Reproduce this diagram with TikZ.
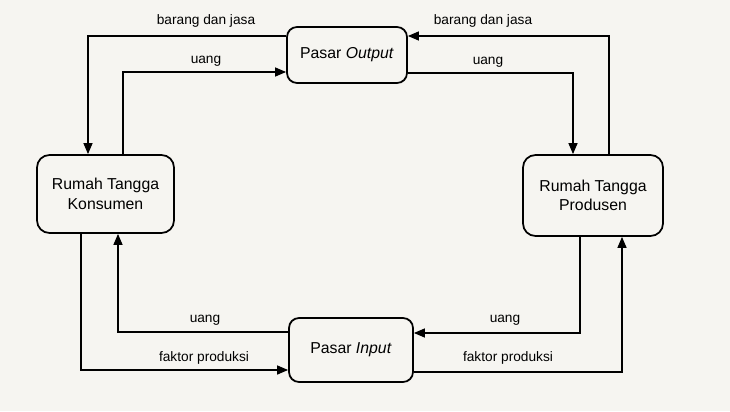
\documentclass[tikz,border=0pt]{standalone}
\usepackage{fontspec}
\setmainfont{Liberation Sans}
\usetikzlibrary{arrows.meta}
\tikzset{>={Triangle[length=2.2mm,width=1.8mm]}}
\definecolor{paper}{RGB}{246,245,241}

\begin{document}
\begin{tikzpicture}[align = center, font = \fontsize{9}{11}\selectfont,
    pasar/.style = {draw, rounded corners = 2mm, line width = 1pt},
    rumah/.style = {draw, rounded corners = 2.5mm, line width = 1pt},
    flow/.style = {->, line width = 0.8pt},
    label/.style = {font = \fontsize{7.8}{9}\selectfont}]
        \fill[paper] (0, 0) rectangle (14.6, 8.22);
        \useasboundingbox (0, 0) rectangle (14.6, 8.22);
        % boxes
        \node[pasar, minimum width = 2.4cm, minimum height = 1.12cm] (output) at (6.94, 7.12) {Pasar \textit{Output}};
        \node[pasar, minimum width = 2.48cm, minimum height = 1.28cm] (input) at (7.02, 1.22) {Pasar \textit{Input}};
        \node[rumah, minimum width = 2.74cm, minimum height = 1.56cm] (konsumen) at (2.11, 4.34) {Rumah Tangga \\ Konsumen};
        \node[rumah, minimum width = 2.8cm, minimum height = 1.62cm] (produsen) at (11.86, 4.31) {Rumah Tangga \\ Produsen};
        % flows
        \draw[flow] ([yshift=3.8mm]output.west) -| ([xshift=-3.5mm]konsumen.north);
        \draw[flow] ([xshift=3.5mm]konsumen.north) |- ([yshift=-3.4mm]output.west);
        \draw[flow] ([xshift=3.2mm]produsen.north) |- ([yshift=3.8mm]output.east);
        \draw[flow] ([yshift=-3.6mm]output.east) -| ([xshift=-4mm]produsen.north);
        \draw[flow] ([yshift=3.6mm]input.west) -| ([xshift=2.5mm]konsumen.south);
        \draw[flow] ([xshift=-4.9mm]konsumen.south) |- ([yshift=-4mm]input.west);
        \draw[flow] ([xshift=-2.6mm]produsen.south) |- ([yshift=3.4mm]input.east);
        \draw[flow] ([yshift=-4.4mm]input.east) -| ([xshift=5.8mm]produsen.south);
        % labels
        \node[label] (barang_kiri) at (4.12, 7.8) {barang dan jasa};
        \node[label] (uang_kiri_atas) at (4.12, 7.0) {uang};
        \node[label] (barang_kanan) at (9.66, 7.8) {barang dan jasa};
        \node[label] (uang_kanan_atas) at (9.76, 6.98) {uang};
        \node[label] (uang_kiri_bawah) at (4.1, 1.82) {uang};
        \node[label] (faktor_kiri) at (4.08, 1.06) {faktor produksi};
        \node[label] (uang_kanan_bawah) at (10.1, 1.82) {uang};
        \node[label] (faktor_kanan) at (10.16, 1.06) {faktor produksi};
      \end{tikzpicture}
\end{document}
